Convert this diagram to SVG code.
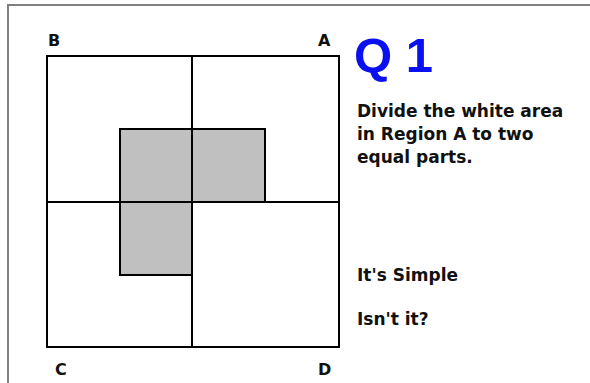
<svg xmlns="http://www.w3.org/2000/svg" width="590" height="383" viewBox="0 0 590 383">
<style>
.ln{fill:none;stroke:#000;stroke-width:2}
.sh{fill:#c0c0c0;stroke:#000;stroke-width:2}
.lbl{font-family:"DejaVu Sans","Liberation Sans",sans-serif;font-weight:bold;font-size:16px;fill:#111}
.body{font-family:"DejaVu Sans","Liberation Sans",sans-serif;font-weight:bold;font-size:17px;fill:#111}
.q{font-family:"Liberation Sans",Arial,sans-serif;font-weight:bold;font-size:49px;fill:#0a10f0}
</style>
<rect width="590" height="383" fill="#fff"/>
<path d="M8 383V5H590" fill="none" stroke="#808080" stroke-width="2"/>
<g id="shaded">
<path class="sh" d="M120 129H265V202H192V275H120Z"/>
</g>
<g id="square">
<rect class="ln" x="47" y="56" width="292" height="291"/>
<path class="ln" d="M192 56V347M47 202H339"/>
</g>
<g id="labels">
<text class="lbl" x="48" y="46">B</text>
<text class="lbl" x="318" y="46">A</text>
<text class="lbl" x="55" y="375">C</text>
<text class="lbl" x="318" y="375">D</text>
</g>
<g id="question">
<text class="q" x="354" y="72">Q 1</text>
<text class="body" x="357" y="117">Divide the white area</text>
<text class="body" x="357" y="140">in Region A to two</text>
<text class="body" x="357" y="163">equal parts.</text>
<text class="body" x="357" y="281">It's Simple</text>
<text class="body" x="357" y="325">Isn't it?</text>
</g>
</svg>
